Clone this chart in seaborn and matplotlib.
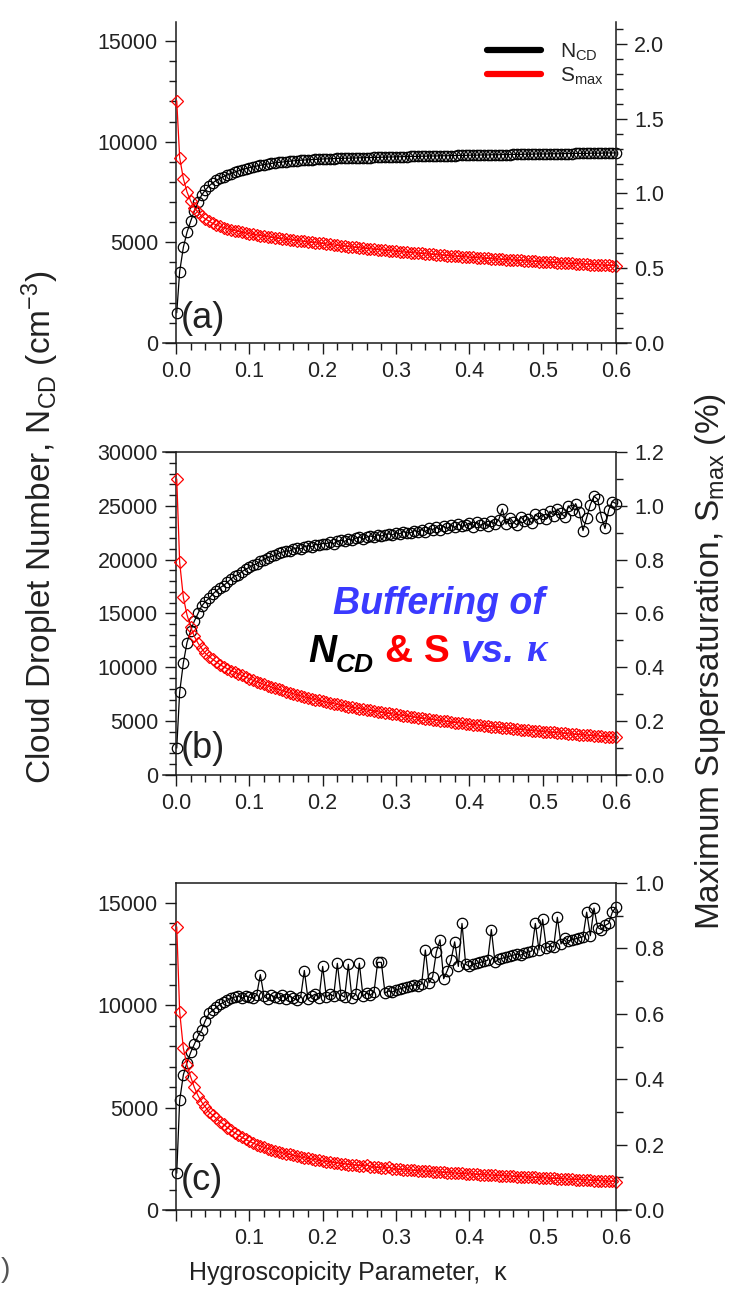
import matplotlib
matplotlib.use("Agg")
import matplotlib.pyplot as plt
import seaborn as sns
from matplotlib.ticker import MultipleLocator, FormatStrFormatter, FixedLocator, FixedFormatter
from matplotlib.lines import Line2D

sns.set_style("ticks")
plt.rcParams["font.family"] = ["Liberation Sans", "DejaVu Sans"]
plt.rcParams["mathtext.fontset"] = "custom"
plt.rcParams["mathtext.rm"] = "Liberation Sans"
plt.rcParams["mathtext.it"] = "Liberation Sans:italic"
plt.rcParams["mathtext.bf"] = "Liberation Sans:bold"

# ---------------- data ----------------
kappa = [
    0.001, 0.005, 0.010, 0.015, 0.020, 0.025, 0.030, 0.035, 0.040, 0.045,
    0.050, 0.055, 0.060, 0.065, 0.070, 0.075, 0.080, 0.085, 0.090, 0.095,
    0.100, 0.105, 0.110, 0.115, 0.120, 0.125, 0.130, 0.135, 0.140, 0.145,
    0.150, 0.155, 0.160, 0.165, 0.170, 0.175, 0.180, 0.185, 0.190, 0.195,
    0.200, 0.205, 0.210, 0.215, 0.220, 0.225, 0.230, 0.235, 0.240, 0.245,
    0.250, 0.255, 0.260, 0.265, 0.270, 0.275, 0.280, 0.285, 0.290, 0.295,
    0.300, 0.305, 0.310, 0.315, 0.320, 0.325, 0.330, 0.335, 0.340, 0.345,
    0.350, 0.355, 0.360, 0.365, 0.370, 0.375, 0.380, 0.385, 0.390, 0.395,
    0.400, 0.405, 0.410, 0.415, 0.420, 0.425, 0.430, 0.435, 0.440, 0.445,
    0.450, 0.455, 0.460, 0.465, 0.470, 0.475, 0.480, 0.485, 0.490, 0.495,
    0.500, 0.505, 0.510, 0.515, 0.520, 0.525, 0.530, 0.535, 0.540, 0.545,
    0.550, 0.555, 0.560, 0.565, 0.570, 0.575, 0.580, 0.585, 0.590, 0.595,
    0.600,
]

ncd_a = [
    1500, 3550, 4750, 5500, 6050, 6550, 7000, 7350, 7600, 7800,
    7950, 8080, 8180, 8270, 8350, 8420, 8490, 8550, 8610, 8660,
    8710, 8750, 8790, 8830, 8860, 8890, 8920, 8950, 8970, 8990,
    9010, 9030, 9050, 9060, 9080, 9090, 9100, 9110, 9120, 9130,
    9140, 9150, 9150, 9160, 9170, 9170, 9180, 9180, 9190, 9190,
    9200, 9200, 9210, 9210, 9220, 9220, 9230, 9230, 9240, 9240,
    9250, 9250, 9260, 9260, 9270, 9270, 9270, 9280, 9280, 9290,
    9290, 9290, 9300, 9300, 9300, 9310, 9310, 9320, 9320, 9320,
    9330, 9330, 9330, 9340, 9340, 9340, 9350, 9350, 9350, 9360,
    9360, 9360, 9370, 9370, 9370, 9380, 9380, 9380, 9390, 9390,
    9390, 9390, 9400, 9400, 9400, 9400, 9410, 9410, 9410, 9420,
    9420, 9420, 9420, 9430, 9430, 9430, 9430, 9440, 9440, 9440,
    9440,
]
smax_a = [
    1.62, 1.24, 1.10, 1.01, 0.95, 0.905, 0.875, 0.85, 0.83, 0.815,
    0.80, 0.79, 0.78, 0.772, 0.765, 0.758, 0.752, 0.746, 0.741, 0.736,
    0.731, 0.727, 0.723, 0.719, 0.715, 0.711, 0.707, 0.704, 0.700, 0.697,
    0.694, 0.691, 0.688, 0.685, 0.682, 0.679, 0.676, 0.674, 0.671, 0.668,
    0.666, 0.662, 0.659, 0.656, 0.653, 0.650, 0.648, 0.645, 0.642, 0.640,
    0.637, 0.635, 0.632, 0.630, 0.627, 0.625, 0.623, 0.620, 0.618, 0.616,
    0.613, 0.611, 0.609, 0.607, 0.605, 0.603, 0.601, 0.599, 0.597, 0.595,
    0.593, 0.591, 0.589, 0.587, 0.585, 0.583, 0.581, 0.580, 0.578, 0.576,
    0.574, 0.572, 0.571, 0.569, 0.567, 0.566, 0.564, 0.562, 0.561, 0.559,
    0.558, 0.556, 0.555, 0.553, 0.552, 0.550, 0.549, 0.547, 0.546, 0.544,
    0.543, 0.542, 0.540, 0.539, 0.537, 0.536, 0.535, 0.533, 0.532, 0.531,
    0.529, 0.528, 0.527, 0.525, 0.524, 0.523, 0.522, 0.520, 0.519, 0.518,
    0.517,
]

ncd_b = [
    2500, 7700, 10400, 12300, 13400, 14300, 15000, 15700, 16100, 16400,
    16800, 17100, 17400, 17600, 17900, 18200, 18500, 18600, 18900, 19100,
    19300, 19500, 19600, 19900, 20000, 20200, 20300, 20400, 20600, 20700,
    20800, 20800, 21000, 21100, 21000, 21200, 21300, 21200, 21400, 21400,
    21500, 21500, 21600, 21500, 21700, 21800, 21700, 21900, 21800, 22000,
    22100, 21900, 22100, 22200, 22100, 22300, 22200, 22300, 22400, 22300,
    22500, 22400, 22600, 22500, 22500, 22700, 22600, 22800, 22600, 22900,
    22800, 23000, 22800, 23100, 22900, 23200, 23000, 23300, 23100, 23200,
    23400, 23000, 23500, 23200, 23400, 23100, 23600, 23300, 23700, 24700,
    23300, 23900, 23500, 23200, 24000, 23600, 23800, 23400, 24200, 23900,
    24200, 23800, 24500, 24100, 24700, 24300, 24000, 25000, 24600, 25200,
    24400, 22700, 23900, 25100, 25900, 25600, 24000, 22900, 24600, 25400,
    25200,
]
smax_b = [
    1.10, 0.79, 0.66, 0.595, 0.55, 0.515, 0.49, 0.47, 0.452, 0.44,
    0.43, 0.42, 0.41, 0.402, 0.395, 0.388, 0.382, 0.376, 0.370, 0.364,
    0.358, 0.352, 0.347, 0.342, 0.337, 0.332, 0.327, 0.322, 0.318, 0.314,
    0.310, 0.306, 0.302, 0.298, 0.294, 0.290, 0.287, 0.283, 0.280, 0.277,
    0.274, 0.271, 0.268, 0.265, 0.262, 0.259, 0.257, 0.254, 0.252, 0.249,
    0.247, 0.244, 0.242, 0.240, 0.238, 0.235, 0.233, 0.231, 0.229, 0.227,
    0.225, 0.223, 0.221, 0.219, 0.217, 0.215, 0.213, 0.211, 0.209, 0.207,
    0.206, 0.204, 0.202, 0.200, 0.199, 0.197, 0.195, 0.194, 0.192, 0.190,
    0.189, 0.187, 0.186, 0.184, 0.183, 0.181, 0.180, 0.178, 0.177, 0.176,
    0.174, 0.173, 0.172, 0.170, 0.169, 0.168, 0.166, 0.165, 0.164, 0.163,
    0.161, 0.160, 0.159, 0.158, 0.157, 0.156, 0.155, 0.153, 0.152, 0.151,
    0.150, 0.149, 0.148, 0.147, 0.146, 0.145, 0.144, 0.143, 0.142, 0.141,
    0.140,
]

ncd_c = [
    1800, 5350, 6600, 7200, 7700, 8100, 8500, 8800, 9250, 9600,
    9750, 9900, 10050, 10150, 10250, 10350, 10400, 10450, 10350, 10450,
    10400, 10350, 10500, 11500, 10450, 10300, 10500, 10400, 10350, 10500,
    10300, 10450, 10350, 10250, 10400, 11700, 10300, 10450, 10550, 10350,
    11900, 10400, 10550, 10450, 12050, 10500, 10400, 12000, 10350, 10550,
    12050, 10450, 10600, 10500, 10650, 12100, 12100, 10600, 10700, 10650,
    10750, 10800, 10850, 10900, 10950, 11000, 10950, 11050, 12700, 11100,
    11400, 12600, 13200, 11300, 11700, 12200, 13100, 11900, 14000, 12000,
    11900, 12000, 12050, 12100, 12150, 12200, 13700, 12100, 12250, 12300,
    12350, 12400, 12450, 12500, 12450, 12550, 12600, 12650, 14000, 12700,
    14200, 12800, 12900, 12850, 14300, 13000, 13300, 13150, 13200, 13250,
    13300, 13350, 14550, 13400, 14750, 13800, 13700, 13900, 14000, 14550,
    14800,
]
smax_c = [
    0.866, 0.606, 0.495, 0.443, 0.407, 0.375, 0.350, 0.330, 0.315, 0.300,
    0.290, 0.280, 0.270, 0.262, 0.252, 0.244, 0.236, 0.229, 0.222, 0.216,
    0.210, 0.205, 0.200, 0.196, 0.192, 0.188, 0.185, 0.181, 0.178, 0.175,
    0.172, 0.170, 0.167, 0.165, 0.162, 0.160, 0.158, 0.156, 0.154, 0.152,
    0.150, 0.148, 0.147, 0.145, 0.144, 0.142, 0.141, 0.139, 0.138, 0.137,
    0.136, 0.135, 0.139, 0.132, 0.131, 0.130, 0.129, 0.128, 0.131, 0.126,
    0.125, 0.124, 0.123, 0.123, 0.122, 0.121, 0.120, 0.119, 0.119, 0.118,
    0.117, 0.116, 0.116, 0.115, 0.114, 0.114, 0.113, 0.112, 0.112, 0.111,
    0.110, 0.110, 0.109, 0.108, 0.108, 0.107, 0.107, 0.106, 0.105, 0.105,
    0.104, 0.104, 0.103, 0.102, 0.102, 0.101, 0.101, 0.100, 0.100, 0.099,
    0.098, 0.098, 0.097, 0.097, 0.096, 0.096, 0.095, 0.094, 0.094, 0.093,
    0.093, 0.092, 0.092, 0.091, 0.090, 0.090, 0.089, 0.089, 0.088, 0.088,
    0.087,
]

x_ticks = [0.0, 0.1, 0.2, 0.3, 0.4, 0.5, 0.6]
x_ticklabels_ab = ["0.0", "0.1", "0.2", "0.3", "0.4", "0.5", "0.6"]
x_ticklabels_c = ["", "0.1", "0.2", "0.3", "0.4", "0.5", "0.6"]

# ---------------- layout ----------------
W, H = 729, 1293
fig = plt.figure(figsize=(W / 100, H / 100), dpi=100)

LEFT_PX, RIGHT_PX = 163, 631
X0_PX, X6_PX = 176, 616
pxper = (X6_PX - X0_PX) / 0.6
XLO = -(X0_PX - LEFT_PX) / pxper
XHI = 0.6 + (RIGHT_PX - X6_PX) / pxper

TICK_COLOR = "#222222"
SPINE_COLOR = "#1a1a1a"

panels = [
    dict(n=ncd_a, s=smax_a, top=22, bottom=343, yl=(0, 15946), yr=(0, 2.147),
         rmaj=0.5, rmin=0.1, lab="(a)", labely=318, topspine=False, xt=x_ticklabels_ab),
    dict(n=ncd_b, s=smax_b, top=452, bottom=775, yl=(0, 30000), yr=(0, 1.2),
         rmaj=0.2, rmin=0.1, lab="(b)", labely=748, topspine=True, xt=x_ticklabels_ab),
    dict(n=ncd_c, s=smax_c, top=883, bottom=1210, yl=(0, 15975), yr=(0, 1.0),
         rmaj=0.2, rmin=0.1, lab="(c)", labely=1181, topspine=True, xt=x_ticklabels_c),
]

minor_x = [round(0.02 * i, 2) for i in range(31) if i % 5 != 0]

axes_list = []
for i, p in enumerate(panels):
    rect = [LEFT_PX / W, 1 - p["bottom"] / H, (RIGHT_PX - LEFT_PX) / W, (p["bottom"] - p["top"]) / H]
    ax = fig.add_axes(rect)
    ax.set_facecolor("none")
    ax2 = ax.twinx()

    sns.lineplot(x=kappa, y=p["n"], ax=ax, color="black", lw=0.9, estimator=None, sort=False,
                 marker="o", markersize=7.5, markerfacecolor="none",
                 markeredgecolor="black", markeredgewidth=0.9)
    sns.lineplot(x=kappa, y=p["s"], ax=ax2, color="red", lw=0.9, estimator=None, sort=False,
                 marker="D", markersize=6.2, markerfacecolor="none",
                 markeredgecolor="red", markeredgewidth=0.9)

    ax.set_xlim(XLO, XHI)
    ax.set_ylim(*p["yl"])
    ax2.set_ylim(*p["yr"])
    ax.set_xlabel("")
    ax.set_ylabel("")
    ax2.set_ylabel("")

    # spines
    ax.spines["left"].set_position(("data", 0.0))
    ax.spines["right"].set_visible(False)
    ax.spines["top"].set_visible(p["topspine"])
    if i == 1:
        ax.spines["top"].set_bounds(XLO, 0.6)
    elif i == 2:
        ax.spines["top"].set_bounds(0.0, 0.6)
    for s in ["left", "top", "bottom"]:
        ax2.spines[s].set_visible(False)
    ax2.spines["right"].set_position(("data", 0.6))
    for a in (ax, ax2):
        for s in a.spines.values():
            s.set_color(SPINE_COLOR)
            s.set_linewidth(1.1)

    # ticks
    ax.xaxis.set_major_locator(FixedLocator(x_ticks))
    ax.xaxis.set_major_formatter(FixedFormatter(p["xt"]))
    ax.xaxis.set_minor_locator(FixedLocator(minor_x))
    ax.yaxis.set_major_locator(MultipleLocator(5000))
    ax.yaxis.set_minor_locator(MultipleLocator(1000))
    ax.yaxis.set_major_formatter(FormatStrFormatter("%d"))
    ax2.yaxis.set_major_locator(MultipleLocator(p["rmaj"]))
    ax2.yaxis.set_minor_locator(MultipleLocator(p["rmin"]))
    ax2.yaxis.set_major_formatter(FormatStrFormatter("%.1f"))

    for a in (ax, ax2):
        a.tick_params(which="major", direction="out", length=8, width=1.0,
                      color=SPINE_COLOR, labelsize=15.5, labelcolor=TICK_COLOR, pad=5)
        a.tick_params(which="minor", direction="out", length=5, width=1.0, color=SPINE_COLOR)
    ax.tick_params(axis="y", which="both", left=True, right=False)
    ax2.tick_params(axis="y", which="both", right=True, left=False)
    ax.grid(False)
    ax2.grid(False)

    fig.text(181 / W, 1 - p["labely"] / H, p["lab"], fontsize=26, color="#222222",
             ha="left", va="center")
    axes_list.append((ax, ax2))

# legend in panel (a)
handles = [Line2D([0], [0], color="black", lw=4.5), Line2D([0], [0], color="red", lw=4.5)]
axes_list[0][1].legend(handles, [r"N$_{\mathrm{CD}}$", r"S$_{\mathrm{max}}$"],
                       loc="upper right", bbox_to_anchor=(612 / W, 1 - 33 / H),
                       bbox_transform=fig.transFigure, frameon=False, fontsize=15,
                       handlelength=2.6, handletextpad=0.9, labelspacing=0.15,
                       borderaxespad=0)

# axis titles
fig.text(40 / W, 1 - 527 / H, r"Cloud Droplet Number, N$_{\mathrm{CD}}$ (cm$^{-3}$)",
         rotation=90, fontsize=24, color="#222222", ha="center", va="center")
fig.text(711 / W, 1 - 662 / H, r"Maximum Supersaturation, S$_{\mathrm{max}}$ (%)",
         rotation=90, fontsize=24, color="#222222", ha="center", va="center")
fig.text(348 / W, 1 - 1273 / H, "Hygroscopicity Parameter,  κ",
         fontsize=18, color="#222222", ha="center", va="center")
fig.text(1 / W, 1 - 1270 / H, ")", fontsize=20, color="#555555", ha="left", va="center")

# annotation
BLUE = "#3a3aff"
fig.text(333 / W, 1 - 614 / H, "Buffering of", color=BLUE, fontsize=27,
         fontweight="bold", style="italic", va="baseline", ha="left")
t1 = fig.text(308 / W, 1 - 662 / H, "N", color="black", fontsize=28,
              fontweight="bold", style="italic", va="baseline", ha="left")
t2 = fig.add_artist(plt.Annotation("CD", xy=(1, 0), xycoords=t1, xytext=(0, -5),
                                   textcoords="offset points", color="black", fontsize=19,
                                   fontweight="bold", style="italic", va="bottom", ha="left"))
t3 = fig.add_artist(plt.Annotation("& S", xy=(1, 0), xycoords=(t2, t1), xytext=(8, 0),
                                   textcoords="offset points", color="red", fontsize=28,
                                   fontweight="bold", va="bottom", ha="left"))
t4 = fig.add_artist(plt.Annotation("vs.", xy=(1, 0), xycoords=t3, xytext=(8, 0),
                                   textcoords="offset points", color=BLUE, fontsize=28,
                                   fontweight="bold", style="italic", va="bottom", ha="left"))
t5 = fig.add_artist(plt.Annotation("κ", xy=(1, 0), xycoords=t4, xytext=(8, 0),
                                   textcoords="offset points", color=BLUE, fontsize=28,
                                   family="Liberation Serif", fontweight="bold", style="italic",
                                   va="bottom", ha="left"))

fig.savefig("out.png", dpi=100)
